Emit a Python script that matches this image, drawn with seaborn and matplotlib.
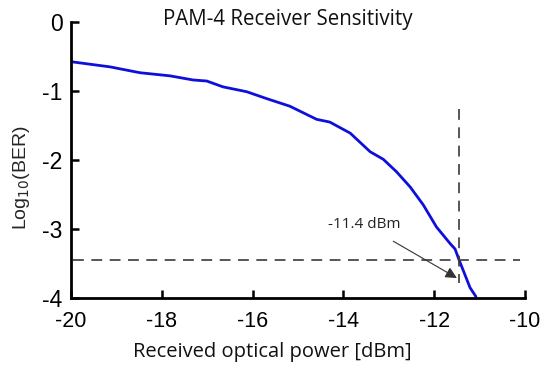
import numpy as np
import pandas as pd
import matplotlib
matplotlib.use('Agg')
import matplotlib.pyplot as plt
import seaborn as sns

# received power (dBm) and log10(BER)
power_dbm = [-20.0, -19.14, -18.48, -17.82, -17.31, -17.01, -16.65, -16.13,
             -15.69, -15.18, -14.59, -14.30, -13.85, -13.41, -13.12, -12.83,
             -12.53, -12.24, -11.95, -11.65, -11.54, -11.45, -11.21, -11.08]
log_ber = [-0.575, -0.65, -0.735, -0.78, -0.84, -0.855, -0.94, -1.01,
           -1.11, -1.22, -1.41, -1.45, -1.61, -1.88, -1.99, -2.17,
           -2.39, -2.65, -2.97, -3.21, -3.29, -3.45, -3.85, -3.98]

ber_threshold = -3.45
sensitivity = -11.45
x_ticks = [-20, -18, -16, -14, -12, -10]
y_ticks = [0, -1, -2, -3, -4]

df = pd.DataFrame({'power': power_dbm, 'logber': log_ber})

sns.set_style('white')
fig = plt.figure(figsize=(5.5, 3.67), dpi=100)
ax = fig.add_axes([0.129, 0.188, 0.8255, 0.752])

sns.lineplot(data=df, x='power', y='logber', ax=ax, color='#0f0fdc',
             linewidth=2.0, sort=False)

# threshold / sensitivity guide lines
ax.plot([-19.95, -10.1], [ber_threshold, ber_threshold], color='#3a3a3a',
        linewidth=1.2, dashes=(6.5, 4.5))
ax.plot([sensitivity, sensitivity], [-1.26, -3.78], color='#3a3a3a',
        linewidth=1.2, dashes=(6.5, 4.5))

ax.annotate('-11.4 dBm', xy=(-11.5, -3.71), xytext=(-13.55, -2.93),
            ha='center', va='center', fontsize=11, family='Open Sans',
            color='#222222',
            arrowprops=dict(arrowstyle='-|>', color='#333333', lw=0.8,
                            mutation_scale=17, shrinkA=9, shrinkB=0,
                            facecolor='black'))

ax.set_xlim(-20, -10)
ax.set_ylim(-4, 0)
ax.set_xticks(x_ticks)
ax.set_yticks(y_ticks)
ax.set_xticklabels([str(t) for t in x_ticks], family='Liberation Sans', fontsize=15.5)
ax.set_yticklabels([str(t) for t in y_ticks], family='Liberation Sans', fontsize=16.5)
ax.tick_params(bottom=True, left=True, direction='in', length=6, width=1.8,
               colors='black')
ax.tick_params(axis='x', pad=9)
ax.tick_params(axis='y', pad=6)

for side in ['top', 'right']:
    ax.spines[side].set_visible(False)
for side in ['left', 'bottom']:
    ax.spines[side].set_linewidth(2)
    ax.spines[side].set_color('black')

fig.text(0.523, 1 - 25 / 367, 'PAM-4 Receiver Sensitivity', family='Open Sans',
         fontsize=14.8, ha='center', va='baseline', color='#111111')
ax.set_xlabel('Received optical power [dBm]', family='Open Sans', fontsize=14.5,
              color='#111111', va='baseline')
ax.xaxis.set_label_coords(0.444, -0.214)
ax.set_ylabel(r'Log$_{10}$(BER)', family='Liberation Sans', fontsize=14)
ax.yaxis.set_label_coords(-0.086, 0.435)

fig.savefig('out.png', dpi=100)
